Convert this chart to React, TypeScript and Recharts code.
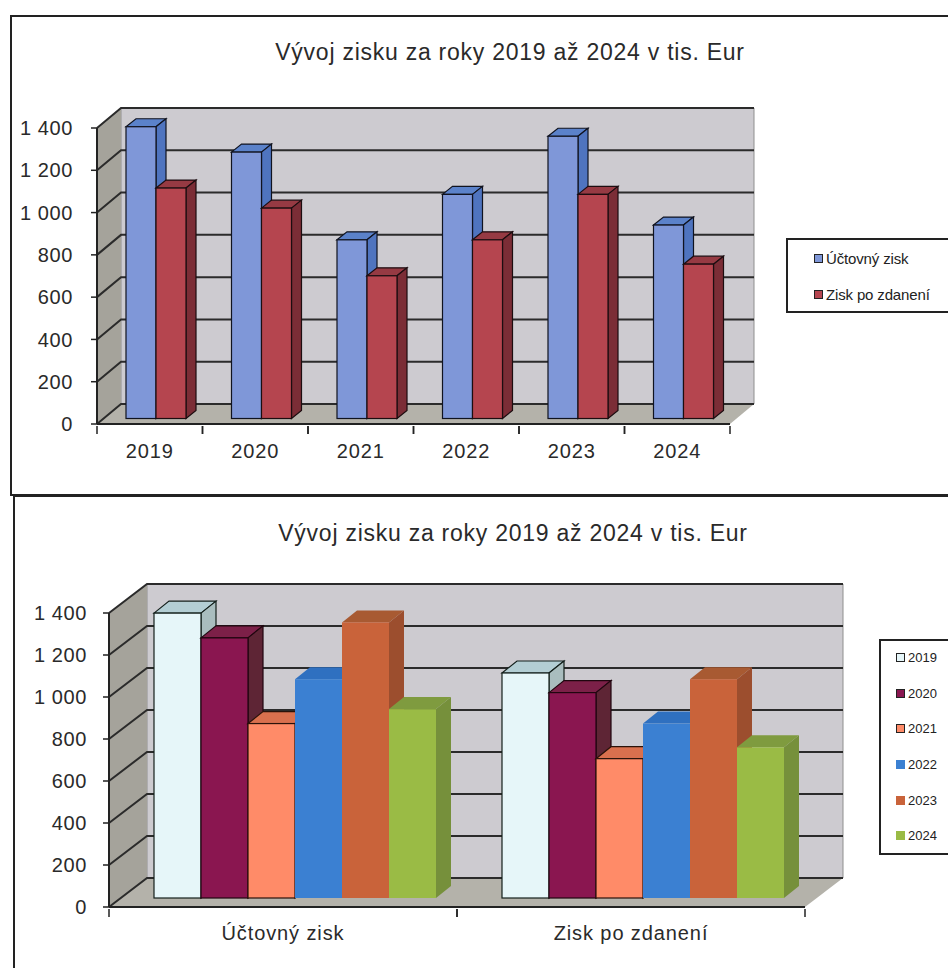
import { BarChart, Bar, XAxis, YAxis, CartesianGrid, Legend, usePlotArea } from 'recharts'

const years = ['2019', '2020', '2021', '2022', '2023', '2024']
const uctovnyZisk = [1380, 1260, 845, 1060, 1335, 915]
const ziskPoZdaneni = [1090, 995, 675, 845, 1060, 730]
const measures = ['Účtovný zisk', 'Zisk po zdanení']
const yTicks = [0, 200, 400, 600, 800, 1000, 1200, 1400]
const title = 'Vývoj zisku za roky 2019 až 2024 v tis. Eur'

const FONT = '"Liberation Sans", Arial, sans-serif'

const byYear = years.map((y, i) => ({ name: y, uctovny: uctovnyZisk[i], zdaneni: ziskPoZdaneni[i] }))
const byMeasure = measures.map((m, k) => {
  const row: Record<string, string | number> = { name: m }
  years.forEach((y, i) => { row[y] = k === 0 ? uctovnyZisk[i] : ziskPoZdaneni[i] })
  return row
})

const fmt = (v: number) => (v >= 1000 ? `${Math.floor(v / 1000)} ${String(v % 1000).padStart(3, '0')}` : String(v))

// walls + floor behind the bars, dx/dy is the depth of the box
function Walls({ dx, dy }: { dx: number; dy: number }) {
  const p = usePlotArea()
  if (!p) return null
  const l = p.x, r = p.x + p.width, t = p.y, b = p.y + p.height
  return (
    <g>
      <polygon points={`${l + dx},${t + dy} ${r + dx},${t + dy} ${r + dx},${b + dy} ${l + dx},${b + dy}`} fill="#cdcbd0" stroke="#8f8f8f" />
      <polygon points={`${l},${t} ${l + dx},${t + dy} ${l + dx},${b + dy} ${l},${b}`} fill="#a5a39b" />
      <polygon points={`${l},${b} ${l + dx},${b + dy} ${r + dx},${b + dy} ${r},${b}`} fill="#b4b2aa" />
    </g>
  )
}

// the grid is painted under everything else, so the walls go in with its first line
function gridLines(dx: number, dy: number) {
  return (props: any) => {
    const { x1, x2, y1, index } = props
    return (
      <g key={`line-${y1}`}>
        {index === 0 && <Walls dx={dx} dy={dy} />}
        <path d={`M${x1},${y1} L${x1 + dx},${y1 + dy} L${x2 + dx},${y1 + dy}`} fill="none" stroke="#2b2b2b" strokeWidth={2} />
      </g>
    )
  }
}

type BarStyle = { front: string; side: string; top: string; line?: string }

function box3d(s: BarStyle, o: { sx: number; sy: number; ddx: number; ddy: number; squash: number }) {
  return (props: any) => {
    const base = props.y + props.height + o.sy
    const h = props.height * o.squash
    const x = props.x + o.sx
    const w = props.width
    const y = base - h
    const line = s.line ?? 'none'
    return (
      <g>
        <polygon points={`${x},${y} ${x + o.ddx},${y - o.ddy} ${x + w + o.ddx},${y - o.ddy} ${x + w},${y}`} fill={s.top} stroke={line} strokeWidth={1.2} />
        <polygon points={`${x + w},${y} ${x + w + o.ddx},${y - o.ddy} ${x + w + o.ddx},${base - o.ddy} ${x + w},${base}`} fill={s.side} stroke={line} strokeWidth={1.2} />
        <rect x={x} y={y} width={w} height={h} fill={s.front} stroke={line} strokeWidth={1.2} />
      </g>
    )
  }
}

function catTick(half: number, fontSize: number, offset: (i: number) => number) {
  return (props: any) => {
    const { x, y, payload, index } = props
    return (
      <g>
        <line x1={x - half} x2={x - half} y1={y} y2={y + 8} stroke="#222" strokeWidth={1.5} />
        <line x1={x + half} x2={x + half} y1={y} y2={y + 8} stroke="#222" strokeWidth={1.5} />
        <text x={x} y={y + offset(index)} textAnchor="middle" fontSize={fontSize} fontFamily={FONT} fill="#2a2a2a" letterSpacing={0.9}>{payload.value}</text>
      </g>
    )
  }
}

function legendBox(styles: Record<string, BarStyle>, rowGap: number, pad: number, swatchLeft: number, fontSize: number, spacing: number) {
  return (props: any) => (
    <div style={{ boxSizing: 'border-box', width: '100%', height: '100%', border: '2px solid #222', background: '#fff', fontFamily: FONT }}>
      <div style={{ marginTop: pad }}>
        {(props.payload ?? []).map((e: any) => (
          <div key={e.value} style={{ height: rowGap, display: 'flex', alignItems: 'center', paddingLeft: swatchLeft, fontSize, color: '#222', letterSpacing: spacing, whiteSpace: 'nowrap' }}>
            <span style={{ boxSizing: 'border-box', width: 9, height: 9, marginRight: 3, background: styles[e.value].front, border: styles[e.value].line ? '1.5px solid #222' : 'none' }} />
            {e.value}
          </div>
        ))}
      </div>
    </div>
  )
}

const topStyles: Record<string, BarStyle> = {
  'Účtovný zisk': { front: '#7f97d8', side: '#4f74bf', top: '#5b82ca', line: '#10131f' },
  'Zisk po zdanení': { front: '#b5454f', side: '#7b2d36', top: '#963a43', line: '#1c0d10' },
}

const bottomStyles: Record<string, BarStyle> = {
  '2019': { front: '#e6f6f9', side: '#a9bdbe', top: '#b3ced4', line: '#14201c' },
  '2020': { front: '#8a1650', side: '#5e2535', top: '#7c2048', line: '#20060f' },
  '2021': { front: '#ff8b68', side: '#c4674c', top: '#d9704e', line: '#2a120a' },
  '2022': { front: '#3b80d2', side: '#2f6cb8', top: '#2f70c0' },
  '2023': { front: '#c9633a', side: '#9c4e2e', top: '#a85a32' },
  '2024': { front: '#9abb45', side: '#76903b', top: '#7f9b3f' },
}

const axisTick = { fontSize: 20, fontFamily: FONT, fill: '#2a2a2a', letterSpacing: 0.6 }
const axisLine = { stroke: '#222', strokeWidth: 2 }

const titleStyle = (left: number, top: number): React.CSSProperties => ({
  position: 'absolute', left, top, width: 480, textAlign: 'center', fontFamily: FONT, fontSize: 23, letterSpacing: 0.75, color: '#2a2a2a', whiteSpace: 'nowrap',
})

export default function App() {
  const topBox = { sx: 6, sy: -5.5, ddx: 10, ddy: 8, squash: 1 }
  const botBox = { sx: 12, sy: -9, ddx: 15, ddy: 12, squash: 0.983 }

  return (
    <div style={{ position: 'absolute', left: 0, top: 0, width: 948, height: 968, overflow: 'hidden', background: '#fff' }}>
      <div style={{ position: 'absolute', left: 10, top: 15, width: 960, height: 481, border: '2px solid #222', boxSizing: 'border-box' }} />
      <div style={{ position: 'absolute', left: 13, top: 495, width: 960, height: 500, border: '2px solid #222', boxSizing: 'border-box' }} />

      <div style={titleStyle(270, 39)}>{title}</div>
      <div style={{ position: 'absolute', left: 0, top: 0 }}>
        <BarChart width={948} height={496} data={byYear} barGap={0} margin={{ top: 128, right: 218, bottom: 32, left: 0 }}>
          <CartesianGrid vertical={false} horizontal={gridLines(24, -20)} />
          <XAxis dataKey="name" height={40} tickLine={false} tickSize={0} axisLine={axisLine} interval={0} tick={catTick(52.75, 20, () => 32)} />
          <YAxis width={97} domain={[0, 1400]} ticks={yTicks} tickFormatter={fmt} tick={axisTick} tickSize={6} tickMargin={18} axisLine={axisLine} tickLine={{ stroke: '#222', strokeWidth: 1.5 }} />
          <Legend layout="horizontal" verticalAlign="middle" align="center" itemSorter={null} wrapperStyle={{ left: 786, top: 238, width: 164, height: 75 }} content={legendBox(topStyles, 36, 0, 26, 15, -0.15)} />
          <Bar dataKey="uctovny" name="Účtovný zisk" fill={topStyles['Účtovný zisk'].front} barSize={30} isAnimationActive={false} shape={box3d(topStyles['Účtovný zisk'], topBox)} />
          <Bar dataKey="zdaneni" name="Zisk po zdanení" fill={topStyles['Zisk po zdanení'].front} barSize={30} isAnimationActive={false} shape={box3d(topStyles['Zisk po zdanení'], topBox)} />
        </BarChart>
      </div>

      <div style={titleStyle(273, 520)}>{title}</div>
      <div style={{ position: 'absolute', left: 0, top: 496 }}>
        <BarChart width={948} height={472} data={byMeasure} barGap={0} margin={{ top: 117, right: 143, bottom: 21, left: 0 }}>
          <CartesianGrid vertical={false} horizontal={gridLines(38, -29)} />
          <XAxis dataKey="name" height={40} tickLine={false} tickSize={0} axisLine={axisLine} interval={0} tick={catTick(174, 20, () => 31)} />
          <YAxis width={109} domain={[0, 1400]} ticks={yTicks} tickFormatter={fmt} tick={axisTick} tickSize={6} tickMargin={16} axisLine={axisLine} tickLine={{ stroke: '#222', strokeWidth: 1.5 }} />
          <Legend layout="horizontal" verticalAlign="middle" align="center" itemSorter={null} wrapperStyle={{ left: 879, top: 143, width: 71, height: 216 }} content={legendBox(bottomStyles, 35.6, -1, 15, 13, 0)} />
          {years.map(y => (
            <Bar key={y} dataKey={y} name={y} fill={bottomStyles[y].front} barSize={47} isAnimationActive={false} shape={box3d(bottomStyles[y], botBox)} />
          ))}
        </BarChart>
      </div>
    </div>
  )
}
